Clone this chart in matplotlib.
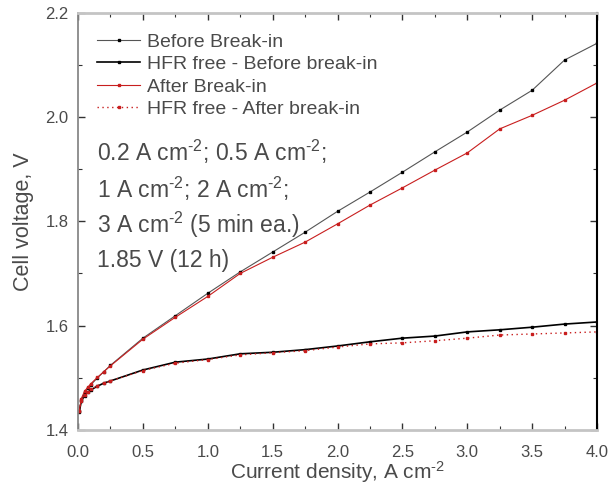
import matplotlib
matplotlib.use("Agg")
import matplotlib.pyplot as plt
from matplotlib.ticker import MultipleLocator

plt.rcParams['font.family'] = ['Liberation Sans', 'DejaVu Sans']
plt.rcParams['mathtext.fontset'] = 'custom'
plt.rcParams['mathtext.rm'] = 'Liberation Sans'
plt.rcParams['mathtext.default'] = 'regular'

# Current density steps (A cm^-2)
current = [0.01, 0.025, 0.05, 0.075, 0.1, 0.15, 0.2, 0.25, 0.5, 0.75, 1.0, 1.25,
           1.5, 1.75, 2.0, 2.25, 2.5, 2.75, 3.0, 3.25, 3.5, 3.75, 4.0]

# Cell voltage (V)
before = [1.436, 1.458, 1.472, 1.480, 1.487, 1.500, 1.512, 1.524, 1.576, 1.619,
          1.662, 1.703, 1.741, 1.779, 1.819, 1.856, 1.894, 1.933, 1.971, 2.013,
          2.051, 2.109, 2.141]
hfr_before = [1.435, 1.455, 1.466, 1.472, 1.477, 1.484, 1.490, 1.494, 1.515, 1.530,
              1.536, 1.546, 1.549, 1.554, 1.561, 1.569, 1.576, 1.580, 1.588, 1.592,
              1.597, 1.603, 1.607]
after = [1.437, 1.460, 1.474, 1.482, 1.489, 1.501, 1.512, 1.523, 1.574, 1.616,
         1.656, 1.700, 1.731, 1.760, 1.795, 1.831, 1.864, 1.898, 1.931, 1.977,
         2.003, 2.032, 2.065]
hfr_after = [1.436, 1.456, 1.467, 1.473, 1.478, 1.485, 1.490, 1.494, 1.514, 1.528,
             1.535, 1.544, 1.548, 1.552, 1.559, 1.565, 1.567, 1.571, 1.576, 1.582,
             1.584, 1.586, 1.588]

labels = ["Before Break-in", "HFR free - Before break-in",
          "After Break-in", "HFR free - After break-in"]

SUP = r"$^{\text{-2}}$"
conditions = [
    "0.2 A cm" + SUP + "; 0.5 A cm" + SUP + ";",
    "1 A cm" + SUP + "; 2 A cm" + SUP + ";",
    "3 A cm" + SUP + " (5 min ea.)",
    "1.85 V (12 h)",
]

RED = "#c81e1e"
TXT = "#4a4a4a"

fig = plt.figure(figsize=(6.11, 4.95), dpi=100)
ax = fig.add_axes([0.1277, 0.1313, 0.8494, 0.8434])

ms = 1.6
ax.plot(current, before, color="#555555", lw=0.8, marker="s", ms=ms,
        mfc="black", mec="black", label=labels[0])
ax.plot(current, hfr_before, color="black", lw=1.2, marker="s", ms=ms,
        mfc="black", mec="black", label=labels[1])
ax.plot(current, after, color=RED, lw=0.8, marker="s", ms=ms,
        mfc=RED, mec=RED, label=labels[2])
ax.plot(current, hfr_after, color=RED, lw=1.0, ls=(0, (1, 2.5)), marker="s", ms=ms,
        mfc=RED, mec=RED, label=labels[3])

ax.set_xlim(0.0, 4.0)
ax.set_ylim(1.4, 2.2)
ax.xaxis.set_major_locator(MultipleLocator(0.5))
ax.xaxis.set_minor_locator(MultipleLocator(0.25))
ax.yaxis.set_major_locator(MultipleLocator(0.2))
ax.yaxis.set_minor_locator(MultipleLocator(0.1))
ax.set_xticklabels([f"{v:.1f}" for v in ax.get_xticks()])
ax.set_yticklabels([f"{v:.1f}" for v in ax.get_yticks()])

ax.tick_params(which="both", direction="in", top=True, right=True,
               colors="#333333", labelcolor=TXT, labelsize=12)
ax.tick_params(which="major", length=5, width=1.0)
ax.tick_params(axis="y", which="major", pad=7)
ax.tick_params(axis="x", which="major", pad=11)
ax.tick_params(which="minor", length=3, width=0.8)

for side in ("top", "bottom"):
    ax.spines[side].set_color("#c4c4c4")
    ax.spines[side].set_linewidth(2.0)
ax.spines["left"].set_color("#888888")
ax.spines["left"].set_linewidth(1.3)
ax.spines["right"].set_color("black")
ax.spines["right"].set_linewidth(1.5)

ax.set_xlabel("Current density, A cm" + SUP, fontsize=15, color=TXT, labelpad=-1)
ax.set_ylabel("Cell voltage, V", fontsize=15.5, color=TXT, labelpad=8)

leg = ax.legend(loc="upper left", bbox_to_anchor=(0.015, 0.978), frameon=False,
                fontsize=14, handlelength=2.2, handletextpad=0.35,
                labelspacing=0.24, borderaxespad=0.2)
for t in leg.get_texts():
    t.set_color(TXT)

for i, line in enumerate(conditions):
    ax.text(0.037, 0.665 - i * 0.0865, line, transform=ax.transAxes,
            fontsize=16.5, color=TXT, va="center", ha="left")

fig.savefig("out.png", dpi=100)
